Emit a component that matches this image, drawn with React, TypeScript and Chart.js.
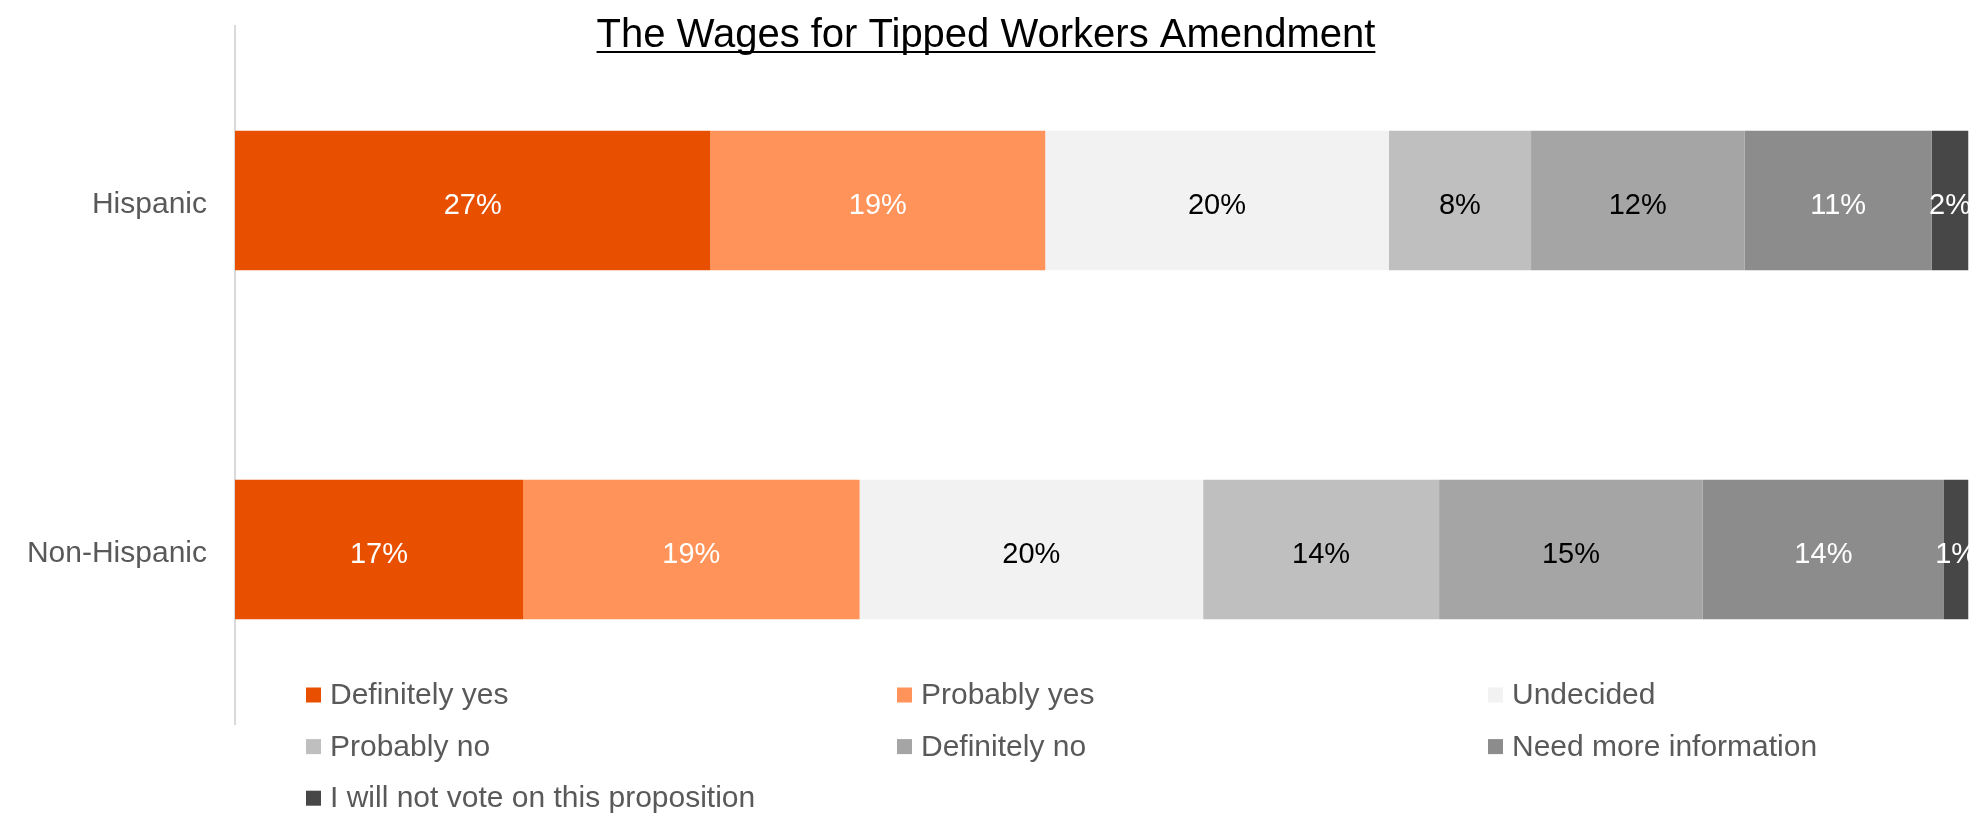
import React, { useEffect, useRef } from "react";
import { Chart, registerables } from "chart.js";

Chart.register(...registerables);

const TITLE = "The Wages for Tipped Workers Amendment";
const categories = ["Hispanic", "Non-Hispanic"];
const seriesNames = [
  "Definitely yes",
  "Probably yes",
  "Undecided",
  "Probably no",
  "Definitely no",
  "Need more information",
  "I will not vote on this proposition",
];
const definitelyYes = [27.4, 16.6];
const probablyYes = [19.3, 19.4];
const undecided = [19.8, 19.8];
const probablyNo = [8.2, 13.6];
const definitelyNo = [12.3, 15.2];
const needMoreInfo = [10.8, 13.9];
const willNotVote = [2.1, 1.4];
const seriesValues = [definitelyYes, probablyYes, undecided, probablyNo, definitelyNo, needMoreInfo, willNotVote];
const seriesColors = ["#e85000", "#ff9359", "#f2f2f2", "#bfbfbf", "#a5a5a5", "#8c8c8c", "#474747"];
const labelColors = ["#ffffff", "#ffffff", "#000000", "#000000", "#000000", "#ffffff", "#ffffff"];

const FONT = "'Liberation Sans', Arial, sans-serif";

const titlePlugin = {
  id: "underlinedTitle",
  afterDraw(chart: any) {
    const ctx = chart.ctx;
    ctx.save();
    ctx.font = `40px ${FONT}`;
    ctx.fillStyle = "#000000";
    ctx.textAlign = "center";
    ctx.textBaseline = "alphabetic";
    const cx = 986;
    const baseline = 47;
    ctx.fillText(TITLE, cx, baseline);
    const w = ctx.measureText(TITLE).width;
    ctx.fillRect(cx - w / 2, baseline + 4, w, 2);
    ctx.restore();
  },
};

const dataLabelPlugin = {
  id: "segmentLabels",
  afterDatasetsDraw(chart: any) {
    const ctx = chart.ctx;
    const area = chart.chartArea;
    ctx.save();
    ctx.beginPath();
    ctx.rect(area.left, area.top, area.right - area.left, area.bottom - area.top);
    ctx.clip();
    ctx.font = `29px ${FONT}`;
    ctx.textAlign = "center";
    ctx.textBaseline = "middle";
    chart.data.datasets.forEach((ds: any, di: number) => {
      const meta = chart.getDatasetMeta(di);
      meta.data.forEach((el: any, i: number) => {
        const v = ds.data[i];
        const props = el.getProps(["x", "y", "base"], true);
        const cx = (props.x + props.base) / 2;
        ctx.fillStyle = labelColors[di];
        ctx.fillText(Math.round(v) + "%", cx, props.y + 5);
      });
    });
    ctx.restore();
  },
};

const legendPlugin = {
  id: "gridLegend",
  afterDraw(chart: any) {
    const ctx = chart.ctx;
    ctx.save();
    ctx.font = `30px ${FONT}`;
    ctx.textAlign = "left";
    ctx.textBaseline = "middle";
    chart.data.datasets.forEach((ds: any, i: number) => {
      const col = i % 3;
      const row = Math.floor(i / 3);
      const x = 306 + col * 591;
      const y = 695 + row * 51.6;
      ctx.fillStyle = ds.backgroundColor;
      ctx.fillRect(x, y - 7.5, 15, 15);
      ctx.fillStyle = "#595959";
      ctx.fillText(ds.label, x + 24, y + 1);
    });
    ctx.restore();
  },
};

export default function App() {
  const ref = useRef<HTMLCanvasElement | null>(null);
  useEffect(() => {
    document.body.style.margin = "0";
    if (!ref.current) return;
    const chart = new Chart(ref.current, {
      type: "bar",
      data: {
        labels: categories,
        datasets: seriesNames.map((name, i) => ({
          label: name,
          data: seriesValues[i],
          backgroundColor: seriesColors[i],
          borderWidth: 0,
          barPercentage: 0.4,
          categoryPercentage: 1,
        })),
      },
      options: {
        indexAxis: "y",
        animation: false,
        responsive: false,
        maintainAspectRatio: false,
        layout: { padding: { top: 26, right: 14, bottom: 98, left: 0 } },
        plugins: {
          legend: { display: false },
          title: { display: false },
          tooltip: { enabled: false },
        },
        scales: {
          x: {
            stacked: true,
            display: false,
            min: 0,
            max: 100,
          },
          y: {
            stacked: true,
            grid: { display: false, drawTicks: false },
            border: { display: true, color: "#d9d9d9", width: 2 },
            ticks: {
              padding: 28,
              labelOffset: 4,
              color: "#595959",
              font: { family: FONT, size: 30 },
            },
            afterFit(scale: any) {
              scale.width = 235;
              scale.paddingTop = 0;
              scale.paddingBottom = 0;
            },
          },
        },
      } as any,
      plugins: [titlePlugin, dataLabelPlugin, legendPlugin],
    });
    return () => chart.destroy();
  }, []);
  return (
    <div style={{ width: 1984, height: 822 }}>
      <canvas ref={ref} width={1984} height={822} style={{ display: "block" }} />
    </div>
  );
}
